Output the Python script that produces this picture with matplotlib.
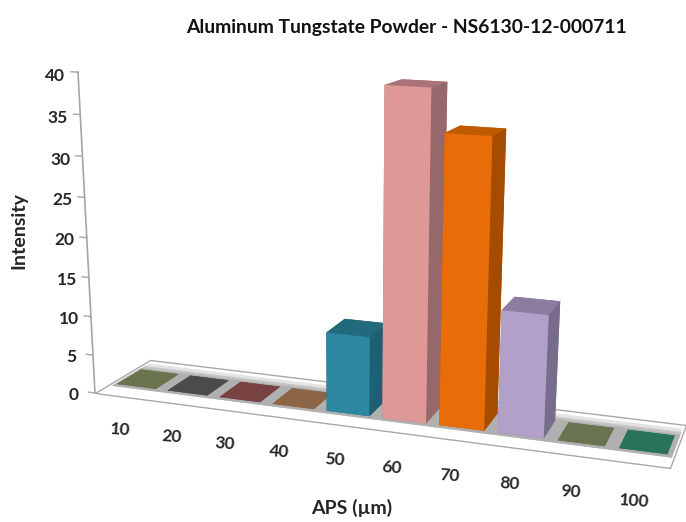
import numpy as np
import matplotlib
matplotlib.use("Agg")
import matplotlib.pyplot as plt
from mpl_toolkits.mplot3d import proj3d
from mpl_toolkits.mplot3d.art3d import Poly3DCollection

plt.rcParams['font.family'] = ['Lato', 'DejaVu Sans']

# data
categories = ['10', '20', '30', '40', '50', '60', '70', '80', '90', '100']
intensity = [0, 0, 0, 0, 10, 40, 35, 15, 0, 0]
yticks = [0, 5, 10, 15, 20, 25, 30, 35, 40]

front_colors = ['#69734d', '#4b4b4b', '#784142', '#8c6446', '#2e87a0',
                '#de9896', '#e86c08', '#b2a0c8', '#69734f', '#28735a']
top_colors = ['#69734d', '#4b4b4b', '#784142', '#8c6446', '#23697d',
              '#aa7378', '#be5a00', '#8c7da0', '#69734f', '#28735a']
side_colors = ['#69734d', '#4b4b4b', '#784142', '#8c6446', '#1e5f73',
               '#96686b', '#a54c00', '#786c8c', '#69734f', '#28735a']

W, H = 686, 522


def camera():
    # picture positions of the floor corners and of the value axis, image px
    floor_xy = [(0, 0), (10, 0), (10, 1), (0, 1)]
    floor_px = [(95, 393), (670, 468), (686, 425), (150, 360)]
    A, b = [], []
    for (x, y), (u, v) in zip(floor_xy, floor_px):
        v = H - v
        A.append([x, y, 1, 0, 0, 0, -u * x, -u * y])
        b.append(u)
        A.append([0, 0, 0, x, y, 1, -v * x, -v * y])
        b.append(v)
    h = np.append(np.linalg.solve(np.array(A, float), np.array(b, float)), 1)
    h = h.reshape(3, 3)

    # the vertical scale, from the top of the axis and the top of the tall bar
    A, b = [], []
    for (x, y, z), (u, v) in [((0, 0, 40), (78, 72)), ((5.09, 0.28, 40), (383, 85))]:
        v = H - v
        w0 = h[2] @ [x, y, 1]
        A.append([z, 0, -u * z])
        b.append(u * w0 - h[0] @ [x, y, 1])
        A.append([0, z, -v * z])
        b.append(v * w0 - h[1] @ [x, y, 1])
    a1, a2, a3 = np.linalg.lstsq(np.array(A, float), np.array(b, float), rcond=None)[0]

    return np.array([[h[0, 0], h[0, 1], a1, h[0, 2]],
                     [h[1, 0], h[1, 1], a2, h[1, 2]],
                     [-0.05, 1, -0.01, 0],
                     [h[2, 0], h[2, 1], a3, h[2, 2]]])


fig = plt.figure(figsize=(W / 100, H / 100), dpi=100)
# a square 3d axes wider than the figure is tall, its 2d view is in pixels
pad = (W - H) / 2
ax = fig.add_axes([0, -pad / H, 1, W / H], projection='3d', computed_zorder=False)
ax.set_axis_off()
ax.set_xticks([])
ax.set_yticks([])
ax.set_zticks([])
ax.patch.set_visible(False)
ax.set_proj_type('ortho')  # stops Line3D clipping to the unit box
proj = camera()
ax.get_proj = lambda: proj
ax.viewLim.intervalx = (0, W)
ax.viewLim.intervaly = (-pad, H + pad)


def floor_poly(x0, x1, y0, y1, **kw):
    poly = Poly3DCollection([[(x0, y0, 0), (x1, y0, 0), (x1, y1, 0), (x0, y1, 0)]], **kw)
    ax.add_collection3d(poly)


def label3d(x, y, z, s, rotation=0):
    # plain text at the projected spot of a 3d point
    px, py, _ = proj3d.proj_transform(x, y, z, proj)
    fig.text(px, py, s, transform=ax.transData, rotation=rotation, rotation_mode='anchor',
             fontsize=12.5, fontweight='bold', color='#262626', ha='center', va='center')


floor_poly(0, 10, 0, 1, facecolor='white', edgecolor='#a8a8a8', linewidth=1.0, zorder=1)
# soft grey band under the bars
floor_poly(0.08, 9.97, 0.22, 0.90, facecolor='#b0b0b0', alpha=0.35, edgecolor='none', zorder=2)
floor_poly(0.08, 9.97, 0.22, 0.82, facecolor='#b0b0b0', alpha=0.6, edgecolor='none', zorder=3)
floor_poly(0.08, 9.97, 0.22, 0.76, facecolor='#b0b0b0', edgecolor='none', zorder=4)

# axis line and ticks
ax.plot([0, 0], [0, 0], [0, yticks[-1]], color='#a6a6a6', lw=1.2, zorder=5)
for t in yticks:
    ax.plot([-0.13, 0], [0, 0], [t, t], color='#a6a6a6', lw=1.0, zorder=5)
    label3d(-0.43, 0, t - 0.6, str(t))

bar_w = 0.77
for i, val in enumerate(intensity):
    # the hidden faces take the top colour so the flat tiles stay one colour
    faces = [top_colors[i], top_colors[i], front_colors[i], top_colors[i], top_colors[i], side_colors[i]]
    ax.bar3d(i + (1 - bar_w) / 2, 0.28, 0, bar_w, 0.44, val, color=faces, shade=False, zorder=10 + i)

for i, lab in enumerate(categories):
    label3d(1.3 + 0.93 * i, -0.72, 0, lab, rotation=-4)

fig.text(406 / W, 1 - 27 / H, 'Aluminum Tungstate Powder - NS6130-12-000711', fontsize=13.9,
         fontweight='bold', color='#111111', ha='center', va='center')
fig.text(19 / W, 1 - 231 / H, 'Intensity', rotation=90, fontsize=14, fontweight='bold',
         color='#262626', ha='center', va='center')
fig.text(352 / W, 1 - 508 / H, 'APS (µm)', fontsize=14, fontweight='bold',
         color='#262626', ha='center', va='center')

fig.savefig('out.png', dpi=100)
